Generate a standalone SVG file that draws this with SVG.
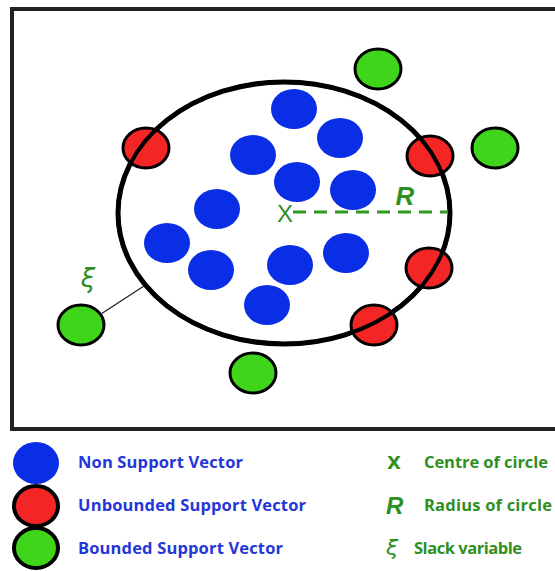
<svg xmlns="http://www.w3.org/2000/svg" width="555" height="571" viewBox="0 0 555 571">
  <style>
    .blue { fill: #0a2de6; }
    .red { fill: #f42525; stroke: #000; stroke-width: 3; }
    .green { fill: #3fd51b; stroke: #000; stroke-width: 3; }
    .lg { stroke-width: 4; }
    .lbl { font-family: "Open Sans", "Liberation Sans", sans-serif; font-weight: 700; font-size: 16.5px; }
    .lblue { fill: #2436d8; }
    .lgreen { fill: #2f8f1f; }
    .xi { font-family: "DejaVu Sans", sans-serif; font-style: italic; }
  </style>

  <rect width="555" height="571" fill="#fff"/>

  <!-- plot frame -->
  <rect id="frame" x="12" y="9" width="560" height="420" fill="none" stroke="#222" stroke-width="4"/>

  <!-- enclosing hypersphere -->
  <ellipse id="boundary" cx="284" cy="213" rx="166" ry="131" fill="none" stroke="#000" stroke-width="5"/>

  <!-- non support vectors -->
  <g id="non-support">
    <ellipse class="blue" cx="294" cy="109" rx="23" ry="20"/>
    <ellipse class="blue" cx="340" cy="138" rx="23" ry="20"/>
    <ellipse class="blue" cx="253" cy="155" rx="23" ry="20"/>
    <ellipse class="blue" cx="297" cy="182" rx="23" ry="20"/>
    <ellipse class="blue" cx="353" cy="190" rx="23" ry="20"/>
    <ellipse class="blue" cx="217" cy="209" rx="23" ry="20"/>
    <ellipse class="blue" cx="167" cy="243" rx="23" ry="20"/>
    <ellipse class="blue" cx="211" cy="270" rx="23" ry="20"/>
    <ellipse class="blue" cx="290" cy="265" rx="23" ry="20"/>
    <ellipse class="blue" cx="346" cy="253" rx="23" ry="20"/>
    <ellipse class="blue" cx="267" cy="305" rx="23" ry="20"/>
  </g>

  <!-- unbounded support vectors (on the boundary) -->
  <g id="unbounded">
    <ellipse class="red" cx="146" cy="148" rx="23" ry="20"/>
    <ellipse class="red" cx="430" cy="156" rx="23" ry="20"/>
    <ellipse class="red" cx="429" cy="268" rx="23" ry="20"/>
    <ellipse class="red" cx="374" cy="325" rx="23" ry="20"/>
  </g>
  <!-- boundary stroke re-drawn over the red points -->
  <ellipse cx="284" cy="213" rx="166" ry="131" fill="none" stroke="#000" stroke-width="4"/>

  <!-- bounded support vectors (outside) -->
  <g id="bounded">
    <ellipse class="green" cx="378" cy="69" rx="23" ry="20"/>
    <ellipse class="green" cx="495" cy="148" rx="23" ry="20"/>
    <ellipse class="green" cx="81" cy="325" rx="23" ry="20"/>
    <ellipse class="green" cx="253" cy="373" rx="23" ry="20"/>
  </g>

  <!-- slack, centre and radius -->
  <g id="connectors">
    <line x1="101" y1="314" x2="144" y2="286" stroke="#222" stroke-width="1.3"/>
    <line x1="293" y1="212" x2="447" y2="212" stroke="#2f9a1f" stroke-width="3" stroke-dasharray="13 8"/>
  </g>
  <g id="annotations">
    <text x="88" y="287" class="lgreen xi" font-size="26" text-anchor="middle">ξ</text>
    <text x="285" y="222" class="lgreen" font-family="'Liberation Sans', sans-serif" font-size="24" text-anchor="middle">X</text>
    <text x="405" y="205" class="lgreen" font-family="'Liberation Sans', sans-serif" font-style="italic" font-weight="700" font-size="26" text-anchor="middle">R</text>
  </g>

  <!-- legend -->
  <g id="legend">
    <ellipse class="blue" cx="36" cy="463" rx="23" ry="21"/>
    <ellipse class="red lg" cx="36" cy="506" rx="22" ry="20"/>
    <ellipse class="green lg" cx="36" cy="548" rx="22" ry="20"/>
    <text x="78" y="468" class="lbl lblue" textLength="165" lengthAdjust="spacing">Non Support Vector</text>
    <text x="78" y="511" class="lbl lblue" textLength="228" lengthAdjust="spacing">Unbounded Support Vector</text>
    <text x="78" y="554" class="lbl lblue" textLength="205" lengthAdjust="spacing">Bounded Support Vector</text>
    <text x="387" y="469" class="lgreen" font-family="'DejaVu Sans', sans-serif" font-weight="700" font-size="18">X</text>
    <text x="424" y="468" class="lbl lgreen" textLength="124" lengthAdjust="spacing">Centre of circle</text>
    <text x="386" y="514" class="lgreen" font-family="'Liberation Sans', sans-serif" font-style="italic" font-weight="700" font-size="24">R</text>
    <text x="424" y="511" class="lbl lgreen" textLength="128" lengthAdjust="spacing">Radius of circle</text>
    <text x="386" y="555" class="lgreen xi" font-size="22">ξ</text>
    <text x="414" y="554" class="lbl lgreen" textLength="108" lengthAdjust="spacing">Slack variable</text>
  </g>
</svg>
